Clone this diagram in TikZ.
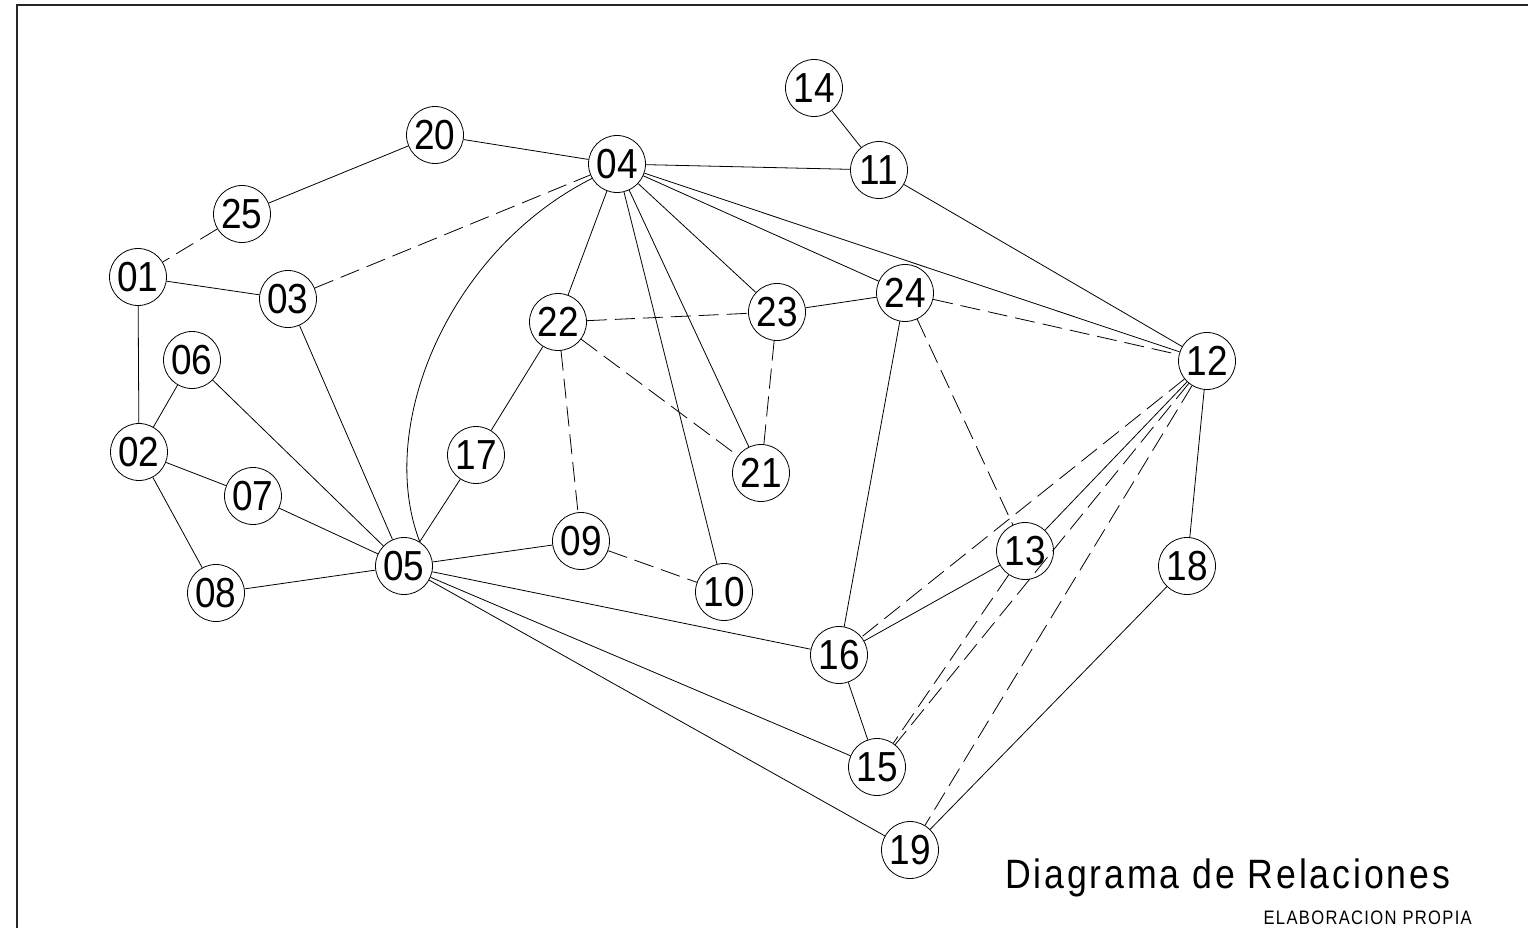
\documentclass[tikz,border=0pt]{standalone}
\usepackage{fontspec}
\setmainfont{Liberation Sans}
\newfontfamily\spacedfont[LetterSpace=8]{Liberation Sans}
\newcommand{\dg}[1]{\scalebox{0.88}[1]{#1}}
\begin{document}
\begin{tikzpicture}[x=1pt,y=-1pt,
  nd/.style={circle,draw,line width=0.8pt,minimum size=57pt,inner sep=0pt,
    font=\fontsize{42}{42}\selectfont},
  ln/.style={line width=0.8pt},
  dl/.style={line width=0.8pt,dash pattern=on 20pt off 8pt}]
\useasboundingbox (0,0) rectangle (1528,928);
\draw[line width=1.8pt,black!85] (17,928) -- (17,5) -- (1528,5);
% nodes
\node[nd] (n14) at (814,88) {\dg{14}};
\node[nd] (n20) at (435,135) {\dg{20}};
\node[nd] (n04) at (617,164) {\dg{04}};
\node[nd] (n11) at (879,170) {\dg{11}};
\node[nd] (n25) at (242,214) {\dg{25}};
\node[nd] (n01) at (138,277) {\dg{01}};
\node[nd] (n03) at (288,299) {\dg{03}};
\node[nd] (n22) at (558,322) {\dg{22}};
\node[nd] (n23) at (777,312) {\dg{23}};
\node[nd] (n24) at (905,293) {\dg{24}};
\node[nd] (n12) at (1207,361) {\dg{12}};
\node[nd] (n06) at (192,360) {\dg{06}};
\node[nd] (n02) at (139,452) {\dg{02}};
\node[nd] (n17) at (476,455) {\dg{17}};
\node[nd] (n21) at (761,473) {\dg{21}};
\node[nd] (n07) at (253,496) {\dg{07}};
\node[nd] (n09) at (581,541) {\dg{09}};
\node[nd] (n05) at (404,566) {\dg{05}};
\node[nd] (n13) at (1025,551) {\dg{13}};
\node[nd] (n18) at (1187,566) {\dg{18}};
\node[nd] (n08) at (216,593) {\dg{08}};
\node[nd] (n10) at (724,592) {\dg{10}};
\node[nd] (n16) at (839,655) {\dg{16}};
\node[nd] (n15) at (877,767) {\dg{15}};
\node[nd] (n19) at (910,850) {\dg{19}};
% solid connectors
\foreach \a/\b in {20/04,04/11,14/11,20/25,01/03,01/02,02/06,02/07,02/08,06/05,07/05,03/05,08/05,17/05,05/09,05/16,05/15,05/19,04/22,22/17,04/10,04/21,04/23,04/24,04/12,11/12,23/24,24/16,12/13,12/18,18/19,13/16,16/15}
  \draw[ln] (n\a) -- (n\b);
% dashed connectors
\foreach \a/\b in {25/01,03/04,09/10,22/23,22/09,22/21,23/21,24/12,24/13,12/16,12/15,12/19,13/15}
  \draw[dl] (n\a) -- (n\b);
% curved connector
\draw[ln] (n04.210) .. controls (450,250) and (375,425) .. (n05.57);
% titles
\node[anchor=base west,inner sep=0pt] (title) at (1005,888) {\scalebox{0.87}[1]{\spacedfont\fontsize{41}{41}\selectfont Diagrama de Relaciones}};
\node[anchor=base east,inner sep=0pt] (sub) at (1472,924) {\scalebox{0.85}[1]{\spacedfont\fontsize{19.5}{19.5}\selectfont ELABORACION PROPIA}};
\end{tikzpicture}
\end{document}
